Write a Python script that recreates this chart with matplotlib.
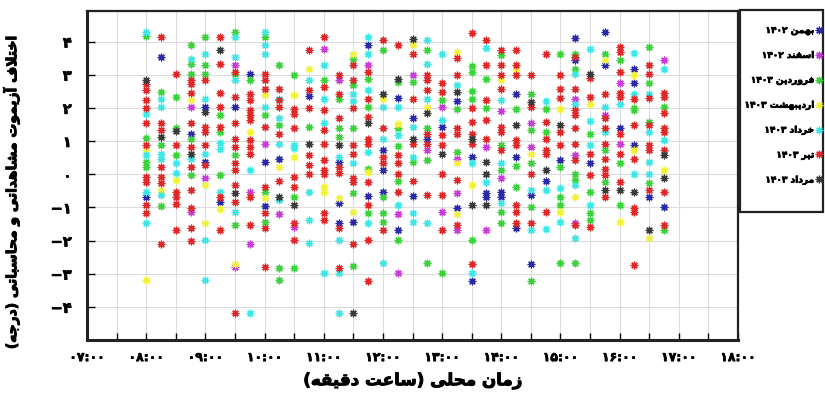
import re
import matplotlib
matplotlib.use("Agg")
import matplotlib.pyplot as plt
import matplotlib.patheffects as pe
from matplotlib.patches import Rectangle
from matplotlib.ticker import FixedLocator, MultipleLocator, FuncFormatter

# 15-minute slots (local time), 08:00 .. 16:45
slots = ["08:00", "08:15", "08:30", "08:45", "09:00", "09:15", "09:30", "09:45",
         "10:00", "10:15", "10:30", "10:45", "11:00", "11:15", "11:30", "11:45",
         "12:00", "12:15", "12:30", "12:45", "13:00", "13:15", "13:30", "13:45",
         "14:00", "14:15", "14:30", "14:45", "15:00", "15:15", "15:30", "15:45",
         "16:00", "16:15", "16:30", "16:45"]

months = ["بهمن ۱۴۰۲", "اسفند ۱۴۰۲", "فروردین ۱۴۰۳", "اردیبهشت ۱۴۰۳",
          "خرداد ۱۴۰۳", "تیر ۱۴۰۳", "مرداد ۱۴۰۳"]
colors = ["#2a2aa8", "#c83cd8", "#3cd23c", "#f2f23a", "#3ee6e6", "#e02828", "#3a3a3a"]

# azimuth difference (deg) per slot, one list per month
bahman = [[-0.68], [3.53], [], [1.22], [2.03, 0.37], [-0.83], [2.03], [3.03],
          [0.37, -0.96], [0.47], [], [2.35], [], [0.38, -0.88, -1.48], [-1.45], [3.88, -0.66],
          [0.72, 0.14, -0.53], [2.3, -1.68], [1.7, -0.66], [1.07], [1.43], [2.22, -1.03],
          [0.52, -3.22], [-0.56, -0.68], [-0.53, -0.68], [2.43, 0.52, -1.63], [-0.63, -2.72],
          [-0.22], [0.42], [4.12, 3.43], [0.33], [4.29, 3.28], [1.38], [3.18, 2.75, 0.87],
          [-0.68], [-0.98]]
esfand = [[], [], [], [2.03, -1.13], [-0.13], [], [3.28, -2.8], [-0.53, -2.12],
          [0.92], [-1.2], [-1.58], [], [3.78], [2.85], [], [3.28],
          [], [-1.2, -2.99], [3.0], [0.72], [2.02, -1.13], [0.47, -0.58, -1.68],
          [], [0.82, -1.68], [1.9, -0.13], [], [1.53, 0.82],
          [], [], [2.28, 0.57, -1.48], [], [1.78], [2.75, 0.92], [],
          [], [3.45]]
farvardin = [[4.17, 1.1, 0.37, 0.22], [2.48, 0.87, -0.96], [2.33, 1.38, 0.57],
             [3.88, 3.31, 3.03, 1.07, -0.03], [4.14, 3.28, 3.03], [1.78, 1.28, -0.03],
             [4.29, 3.01, 0.57, -1.54], [2.85], [4.14, 1.78, -0.53, -1.43],
             [3.3, 1.47, -2.84, -3.2], [3.0, -0.68, -2.84], [1.43], [2.83],
             [2.28, 1.38, 1.12], [3.48, 2.68, 1.38, -0.58, -2.77], [2.88, 2.02, 0.17, -1.18],
             [3.73, -0.68, -1.16, -1.43], [2.78, 1.38, 0.85, -0.22, -1.99], [2.78, 0.37],
             [3.73, 1.38, 0.42, -2.69], [2.25, -2.99], [1.98, 0.67],
             [3.25, 3.08, 2.51, 2.28, -1.99], [2.88, 2.0], [3.58, 0.88, 0.12, -1.13, -1.47],
             [1.98, 0.24, -0.38], [2.43, 1.33, 0.33, -0.98, -3.22], [1.98, 1.28],
             [3.63, 0.22, -0.68, -0.93, -2.69], [3.63, 3.18, 0.02, -0.18, -2.68],
             [1.2, -0.53, -1.18, -1.38], [3.63, 0.72, -0.23], [3.43, 0.33, -0.93],
             [2.01, 1.93], [3.83, 2.75, 1.58, -0.28], [2.03, -1.68]]
ordibehesht = [[0.72, -3.2], [-0.48], [-0.18], [2.23], [-0.33, -1.48], [-1.06], [-2.7], [1.28],
               [2.38, -0.73], [0.22], [2.4, 0.52], [3.18], [-0.38, -0.53], [-0.73], [3.63, -1.13],
               [0.07], [2.28], [1.5], [3.9], [2.02], [], [3.68, 0.33, -1.2], [-0.33], [],
               [2.83], [3.15], [0.62], [], [1.98, -1.13], [-0.68], [2.13], [3.43], [-1.43],
               [3.0, 0.72], [-1.93], [0.12]]
khordad = [[4.29, 1.82, 0.57, -0.53, -1.48], [2.28, 2.03, 0.62, 0.47, -0.63], [0.33, 0.03],
           [3.48, 0.47], [3.63, 2.28, 0.62, -1.99, -3.2], [0.93, 0.77, -0.53],
           [4.14, 3.53, 2.83, -1.13], [0.12, -4.2], [4.29, 3.88, 3.63, 2.03],
           [2.28, 1.7, 0.92, -0.78], [0.88, 0.78], [2.83, -0.53, -1.38, -2.09],
           [3.28, 2.28, 1.53, -2.99], [0.53, -1.99, -2.99, -4.2], [2.43, 2.22, 0.33],
           [4.13, 3.63, 2.53, 0.67, -1.47], [2.02, 1.07, -2.69], [2.02, 1.18, -0.93],
           [1.43, 0.52, -1.18, -1.43], [4.05, 3.33, 2.28, -1.48], [3.63, 1.63], [2.68],
           [0.33, -2.99], [3.8, -0.23], [2.25, 0.33, -0.86], [], [-0.48, -1.68],
           [2.22, -0.48, -1.66], [-0.43, -1.43], [3.03, 2.13, -0.33, -1.93],
           [3.78, 1.6, 0.87, -0.93], [2.03, 1.28], [2.13], [3.65, 2.41, 0.02],
           [2.43, 1.28, 0.37, 0.02], [3.18, 1.02]]
tir = [[2.73, 2.53, 2.23, 2.0, 1.55, 0.87, -0.08, -0.23, -0.93, -1.18],
       [4.14, 1.55, 1.33, 0.22, -0.08, -0.28, -2.12],
       [3.01, 0.87, -0.53, -0.68, -0.9, -1.69],
       [2.85, 2.71, 2.45, 1.53, 0.82, 0.22, -0.48, -1.03, -1.63, -2.01],
       [2.83, 1.43, 1.28, 0.87, 0.27],
       [4.14, 3.31, 2.45, 2.03, 1.43, -0.68, -1.67],
       [3.08, 2.33, 1.55, 1.07, 0.82, 0.33, 0.14, -0.33, -0.83, -4.2],
       [2.43, 2.23, 1.93, 1.78, 1.63, 1.02, 0.82, 0.62, -0.68, -1.54],
       [3.01, 2.85, 2.58, 1.43, -0.38, -1.18, -1.63, -2.8],
       [2.58, 2.23, 2.03, 1.22, -0.2],
       [1.97, 1.8, 1.4, -0.08, -0.38, -1.48, -1.99],
       [3.73, 2.53, 2.0, 0.57, 0.27, 0.02],
       [4.13, 2.63, 1.95, 1.33, 0.92, 0.42, 0.12, 0.02, -1.18, -1.38],
       [3.0, 2.43, 1.68, 0.23, 0.03, -1.63, -2.84],
       [3.28, 2.83, 2.0, 0.88, 0.62, -0.13, -0.23, -2.1],
       [3.08, 2.28, 1.72, 1.07, 0.92, -0.25, -0.93, -1.99, -3.22],
       [4.05, 1.4, 0.52, 0.33, -1.68],
       [3.88, 0.57, 0.33, 0.02, -0.53],
       [3.63, 2.28, 0.92, -0.22],
       [3.0, 2.83, 2.53, 1.22, 0.92, -0.63],
       [2.75, 2.47, 1.18, 0.88, 0.02, -0.63, -1.68],
       [3.5, 3.0, 1.38, 1.22, -0.18, -1.53],
       [4.27, 2.0, 1.58, 1.22, 0.92, -2.72],
       [4.05, 3.28, 2.25, 1.63, 1.07],
       [3.73, 3.28, 3.0, 2.56, 1.43, 1.28, 0.72],
       [3.73, 3.28, 2.98, 1.02, 0.88, -0.93, -1.13, -1.48],
       [2.98, 2.02, 0.02, -1.47],
       [3.63, 1.58, 1.07, 0.72, 0.62, -1.13],
       [3.0, 2.56, 2.3, 1.28, 0.88],
       [3.53, 2.58, 1.93, 1.78, 1.38, 0.92, 0.42, -1.53],
       [2.91, 2.33, 0.62, -0.03, -1.58],
       [2.43, 1.68, 1.38, 0.92, 0.47, 0.17, -0.03, -0.68],
       [3.83, 3.68, 3.08, 2.45, 2.33, 1.22, 0.62, -0.23],
       [2.26, 1.48, 0.47, -1.03, -1.13, -2.74],
       [3.28, 3.03, 2.3, 1.48, 0.87, 0.72, -0.48],
       [2.45, 2.33, 1.83, 1.38, 1.28, 0.72, -0.53, -1.53]]
mordad = [[2.83], [1.12], [1.3], [0.62], [1.88], [3.73], [-0.56], [], [], [-0.68], [-0.93],
          [0.92], [], [0.88], [-4.2], [1.54], [2.43], [2.88], [4.08, 1.07], [1.85], [0.62],
          [2.47], [1.07, -0.93], [0.37, 0.02, -0.93], [], [1.48], [2.17], [0.14], [1.48], [],
          [3.03], [-0.48], [-0.48], [-0.53], [-1.68], [0.57, -0.13]]

series = [bahman, esfand, farvardin, ordibehesht, khordad, tir, mordad]

hour_ticks = ["۰۷:۰۰", "۰۸:۰۰", "۰۹:۰۰", "۱۰:۰۰", "۱۱:۰۰", "۱۲:۰۰",
              "۱۳:۰۰", "۱۴:۰۰", "۱۵:۰۰", "۱۶:۰۰", "۱۷:۰۰", "۱۸:۰۰"]


# --- minimal Persian shaping (no arabic_reshaper available) ---
FORMS = {
    'ا': ('\uFE8D', '\uFE8E', None, None), 'آ': ('\uFE81', '\uFE82', None, None),
    'ب': ('\uFE8F', '\uFE90', '\uFE91', '\uFE92'), 'پ': ('\uFB56', '\uFB57', '\uFB58', '\uFB59'),
    'ت': ('\uFE95', '\uFE96', '\uFE97', '\uFE98'), 'ث': ('\uFE99', '\uFE9A', '\uFE9B', '\uFE9C'),
    'ج': ('\uFE9D', '\uFE9E', '\uFE9F', '\uFEA0'), 'چ': ('\uFB7A', '\uFB7B', '\uFB7C', '\uFB7D'),
    'ح': ('\uFEA1', '\uFEA2', '\uFEA3', '\uFEA4'), 'خ': ('\uFEA5', '\uFEA6', '\uFEA7', '\uFEA8'),
    'د': ('\uFEA9', '\uFEAA', None, None), 'ذ': ('\uFEAB', '\uFEAC', None, None),
    'ر': ('\uFEAD', '\uFEAE', None, None), 'ز': ('\uFEAF', '\uFEB0', None, None),
    'ژ': ('\uFB8A', '\uFB8B', None, None),
    'س': ('\uFEB1', '\uFEB2', '\uFEB3', '\uFEB4'), 'ش': ('\uFEB5', '\uFEB6', '\uFEB7', '\uFEB8'),
    'ص': ('\uFEB9', '\uFEBA', '\uFEBB', '\uFEBC'), 'ض': ('\uFEBD', '\uFEBE', '\uFEBF', '\uFEC0'),
    'ط': ('\uFEC1', '\uFEC2', '\uFEC3', '\uFEC4'), 'ظ': ('\uFEC5', '\uFEC6', '\uFEC7', '\uFEC8'),
    'ع': ('\uFEC9', '\uFECA', '\uFECB', '\uFECC'), 'غ': ('\uFECD', '\uFECE', '\uFECF', '\uFED0'),
    'ف': ('\uFED1', '\uFED2', '\uFED3', '\uFED4'), 'ق': ('\uFED5', '\uFED6', '\uFED7', '\uFED8'),
    'ک': ('\uFB8E', '\uFB8F', '\uFB90', '\uFB91'), 'گ': ('\uFB92', '\uFB93', '\uFB94', '\uFB95'),
    'ل': ('\uFEDD', '\uFEDE', '\uFEDF', '\uFEE0'), 'م': ('\uFEE1', '\uFEE2', '\uFEE3', '\uFEE4'),
    'ن': ('\uFEE5', '\uFEE6', '\uFEE7', '\uFEE8'), 'ه': ('\uFEE9', '\uFEEA', '\uFEEB', '\uFEEC'),
    'و': ('\uFEED', '\uFEEE', None, None), 'ی': ('\uFBFC', '\uFBFD', '\uFBFE', '\uFBFF'),
}
LAM_ALEF = {'ا': ('\uFEFB', '\uFEFC'), 'آ': ('\uFEF5', '\uFEF6')}


def joins_next(ch):
    return ch in FORMS and FORMS[ch][2] is not None


def fa(text):
    res = []
    i, n = 0, len(text)
    while i < n:
        ch = text[i]
        if ch not in FORMS:
            res.append(ch)
            i += 1
            continue
        link_prev = i > 0 and joins_next(text[i - 1])
        if ch == 'ل' and i + 1 < n and text[i + 1] in LAM_ALEF:
            res.append(LAM_ALEF[text[i + 1]][1 if link_prev else 0])
            i += 2
            continue
        link_next = joins_next(ch) and i + 1 < n and text[i + 1] in FORMS
        iso, fin, ini, med = FORMS[ch]
        if link_prev and link_next:
            res.append(med)
        elif link_prev:
            res.append(fin)
        elif link_next:
            res.append(ini)
        else:
            res.append(iso)
        i += 1
    tokens = re.findall(r'[0-9\u06F0-\u06F9:]+|.', ''.join(res))
    mirror = {'(': ')', ')': '('}
    return ''.join(mirror.get(t, t) for t in reversed(tokens))


def to_fa_digits(s):
    return s.translate(str.maketrans("0123456789", "۰۱۲۳۴۵۶۷۸۹"))


def slot_hours(s):
    h, m = s.split(":")
    return int(h) + int(m) / 60


plt.rcParams['font.family'] = ['DejaVu Sans']
plt.rcParams['font.weight'] = 'bold'
# the Arabic glyphs come out in regular weight, so thicken them with a stroke
heavy = [pe.withStroke(linewidth=0.7, foreground="black")]

fig = plt.figure(figsize=(8.25, 3.98), dpi=100)
ax = fig.add_axes([87 / 825, 1 - 340 / 398, (738 - 87) / 825, (340 - 11) / 398])

xs_slot = [slot_hours(s) for s in slots]
star = (8, 2, 0)
for name, col, data in zip(months, colors, series):
    xs, ys = [], []
    for x, vals in zip(xs_slot, data):
        xs += [x] * len(vals)
        ys += vals
    ax.plot(xs, ys, linestyle="none", marker=star, markersize=5.5, markeredgewidth=0.9,
            color=col, label=fa(name))

ax.set_xlim(7, 18)
ax.set_ylim(-5, 4.92)
ax.xaxis.set_major_locator(FixedLocator(range(7, 19)))
ax.xaxis.set_major_formatter(FuncFormatter(lambda v, p: hour_ticks[int(round(v)) - 7]))
ax.xaxis.set_minor_locator(MultipleLocator(0.5))
ax.yaxis.set_major_locator(FixedLocator(range(-4, 5)))
ax.yaxis.set_major_formatter(FuncFormatter(
    lambda v, p: ("\u2212" if v < 0 else "") + to_fa_digits(str(abs(int(round(v)))))))
ax.grid(True, which="both", color="#dcdcdc", linewidth=0.8)
ax.set_axisbelow(True)
ax.tick_params(axis="x", which="both", direction="in", length=5, width=1,
               labelsize=9, pad=8)
ax.tick_params(axis="y", direction="in", length=6, width=1, labelsize=10.5, pad=11)
for side in ["left", "bottom"]:
    ax.spines[side].set_linewidth(2.2)
for side in ["top", "right"]:
    ax.spines[side].set_linewidth(1.6)
for sp in ax.spines.values():
    sp.set_color("#222222")

ax.set_ylabel(fa("اختلاف آزیموت مشاهداتی و محاسباتی (درجه)"), fontsize=10,
              fontweight="bold", path_effects=heavy)
ax.yaxis.set_label_coords(-0.103, 0.45)
ax.set_xlabel(fa("زمان محلی (ساعت دقیقه)"), fontsize=12, fontweight="bold",
              path_effects=heavy)
ax.xaxis.set_label_coords(0.5, -0.095)
for lbl in ax.get_xticklabels() + ax.get_yticklabels():
    lbl.set_path_effects([pe.withStroke(linewidth=0.5, foreground="black")])

# legend box drawn separately: tall padding above/below, tight at the sides
fig.patches.append(Rectangle((740 / 825, 1 - 212 / 398), 83 / 825, 202 / 398,
                             transform=fig.transFigure, fill=False,
                             edgecolor="#222222", linewidth=1.6))
leg = fig.legend(loc="upper right", bbox_to_anchor=(822 / 825, 1 - 26 / 398),
                 markerfirst=False, fontsize=6.5, frameon=False,
                 handlelength=0.6, handletextpad=0.3,
                 labelspacing=1.75, borderpad=0, borderaxespad=0)
for t in leg.get_texts():
    t.set_path_effects([pe.withStroke(linewidth=0.5, foreground="black")])

fig.savefig("out.png", dpi=100)
